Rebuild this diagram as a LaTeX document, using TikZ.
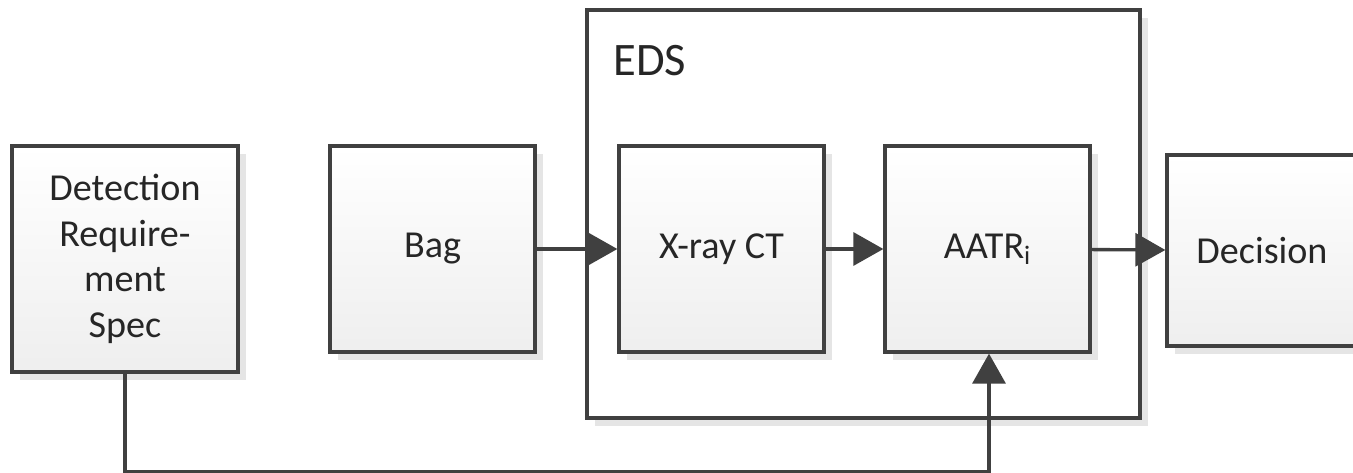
\documentclass[tikz,border=0pt]{standalone}
\usepackage{fontspec}
\setmainfont{Carlito}
\usetikzlibrary{arrows.meta,shadows}
\definecolor{edge}{HTML}{404040}
\begin{document}
\begin{tikzpicture}[x=0.02cm,y=-0.02cm,
    blk/.style={draw=edge,line width=1.9pt,top color=white,bottom color=gray!13,
        drop shadow={shadow xshift=0.16cm,shadow yshift=-0.16cm,fill=gray!20,opacity=1},
        font=\fontsize{21.7}{26}\selectfont,text=black!85,align=center,inner sep=0pt},
    flow/.style={draw=edge,line width=1.9pt,-{Triangle[length=0.6cm,width=0.66cm]}}]
    \useasboundingbox (0,0) rectangle (1353,473);
    \clip (0,0) rectangle (1353,473);
    \node[draw=edge,line width=1.9pt,fill=white,minimum width=11.06cm,minimum height=8.16cm,
        drop shadow={shadow xshift=0.16cm,shadow yshift=-0.16cm,fill=gray!20,opacity=1}]
        (eds) at (863.5,214) {};
    \node[anchor=base west,inner sep=0pt,font=\fontsize{26.5}{30}\selectfont,text=black!85] (edslbl) at (613,76) {EDS};
    \node[blk,minimum width=4.52cm,minimum height=4.52cm] (det) at (125,259) {Detection\\Require-\\ment\\Spec};
    \node[blk,minimum width=4.1cm,minimum height=4.12cm] (bag) at (432.5,249) {Bag};
    \node[blk,minimum width=4.1cm,minimum height=4.12cm] (xct) at (721.5,249) {X-ray CT};
    \node[blk,minimum width=4.1cm,minimum height=4.12cm] (aatr) at (987.5,249) {AATR\textsubscript{i}};
    \node[blk,minimum width=3.8cm,minimum height=3.82cm] (dec) at (1262,250.5) {Decision};
    \coordinate (fb) at (989,472);
    % signal path
    \draw[flow] (bag) -- (xct);
    \draw[flow] (xct) -- (aatr);
    \draw[flow] (aatr) -- (dec);
    \draw[flow] (det.south) |- (fb) -- (fb |- aatr.south);
\end{tikzpicture}
\end{document}
